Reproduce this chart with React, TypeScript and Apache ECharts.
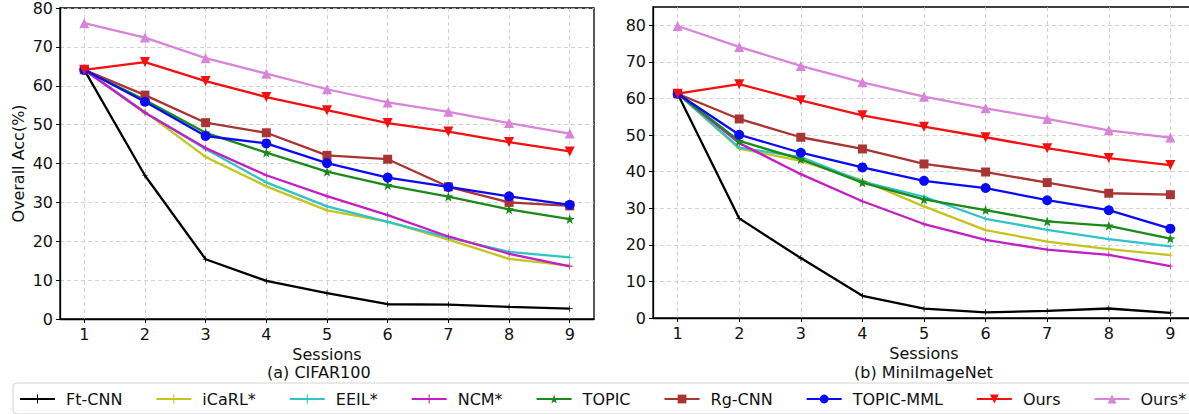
import React, { useEffect, useRef } from "react";
import * as echarts from "echarts";

const sessions = [1, 2, 3, 4, 5, 6, 7, 8, 9];
const methodNames = ["Ft-CNN", "iCaRL*", "EEIL*", "NCM*", "TOPIC", "Rg-CNN", "TOPIC-MML", "Ours", "Ours*"];

// (a) CIFAR100
const cifarFtCNN = [64.1, 36.91, 15.37, 9.8, 6.67, 3.8, 3.7, 3.14, 2.65];
const cifarICaRL = [64.1, 53.28, 41.69, 34.13, 27.93, 25.06, 20.41, 15.48, 13.73];
const cifarEEIL = [64.1, 53.11, 43.71, 35.15, 28.96, 24.98, 21.01, 17.26, 15.85];
const cifarNCM = [64.1, 53.05, 43.96, 36.97, 31.61, 26.73, 21.23, 16.78, 13.54];
const cifarTOPIC = [64.1, 56.3, 47.9, 42.8, 37.9, 34.4, 31.5, 28.2, 25.7];
const cifarRgCNN = [64.1, 57.6, 50.5, 47.9, 42.1, 41.1, 34.0, 30.0, 29.1];
const cifarTOPICMML = [64.1, 55.88, 47.07, 45.16, 40.11, 36.38, 33.96, 31.55, 29.37];
const cifarOurs = [64.1, 66.1, 61.2, 57.1, 53.7, 50.4, 48.2, 45.5, 43.1];
const cifarOursStar = [76.1, 72.4, 67.1, 63.1, 59.1, 55.7, 53.3, 50.4, 47.7];

// (b) MiniImageNet
const miniFtCNN = [61.31, 27.22, 16.37, 6.08, 2.54, 1.56, 1.93, 2.6, 1.4];
const miniICaRL = [61.31, 46.32, 42.94, 37.63, 30.49, 24.0, 20.89, 18.8, 17.21];
const miniEEIL = [61.31, 46.58, 44.0, 37.29, 33.14, 27.12, 24.1, 21.57, 19.58];
const miniNCM = [61.31, 47.8, 39.31, 31.91, 25.68, 21.35, 18.67, 17.24, 14.17];
const miniTOPIC = [61.3, 48.4, 43.4, 37.0, 32.4, 29.5, 26.4, 25.2, 21.7];
const miniRgCNN = [61.3, 54.4, 49.4, 46.2, 42.1, 39.9, 37.0, 34.1, 33.7];
const miniTOPICMML = [61.31, 50.09, 45.17, 41.16, 37.48, 35.52, 32.19, 29.46, 24.42];
const miniOurs = [61.3, 63.9, 59.5, 55.4, 52.3, 49.4, 46.4, 43.7, 41.8];
const miniOursStar = [79.8, 74.1, 68.9, 64.4, 60.5, 57.3, 54.4, 51.3, 49.3];

const yTicks = [0, 10, 20, 30, 40, 50, 60, 70, 80];

const cifarSets = [cifarFtCNN, cifarICaRL, cifarEEIL, cifarNCM, cifarTOPIC, cifarRgCNN, cifarTOPICMML, cifarOurs, cifarOursStar];
const miniSets = [miniFtCNN, miniICaRL, miniEEIL, miniNCM, miniTOPIC, miniRgCNN, miniTOPICMML, miniOurs, miniOursStar];

const PLUS = "path://M-0.6,-5 H0.6 V-0.6 H5 V0.6 H0.6 V5 H-0.6 V0.6 H-5 V-0.6 H-0.6 Z";
const STAR = "path://M0,-10 L2.35,-3.24 L9.51,-3.09 L3.8,1.24 L5.88,8.09 L0,4 L-5.88,8.09 L-3.8,1.24 L-9.51,-3.09 L-2.35,-3.24 Z";

const styles = [
  { color: "#000000", symbol: PLUS, size: 6, rotate: 0 },
  { color: "#c4c41c", symbol: PLUS, size: 6, rotate: 0 },
  { color: "#2ec4c8", symbol: PLUS, size: 6, rotate: 0 },
  { color: "#c31fc3", symbol: PLUS, size: 6, rotate: 0 },
  { color: "#1a8a1a", symbol: STAR, size: 10, rotate: 0 },
  { color: "#a83434", symbol: "rect", size: 9, rotate: 0 },
  { color: "#0a0af5", symbol: "circle", size: 10, rotate: 0 },
  { color: "#f50f0f", symbol: "triangle", size: 10, rotate: 180 },
  { color: "#d884d8", symbol: "triangle", size: 10, rotate: 0 },
];

const FONT = "DejaVu Sans";

function makeXAxis(gridIndex: number) {
  return {
    type: "value",
    gridIndex,
    min: 0.6,
    max: 9.4,
    name: "Sessions",
    nameLocation: "middle",
    nameGap: 22,
    nameTextStyle: { fontFamily: FONT, fontSize: 16, color: "#111" },
    axisLine: { show: true, lineStyle: { color: "#000", width: 1.3 } },
    axisTick: { show: true, length: 4, customValues: sessions, lineStyle: { color: "#000", width: 1 } },
    axisLabel: { customValues: sessions, margin: 7, fontFamily: FONT, fontSize: 16, color: "#111" },
    splitLine: { show: true, lineStyle: { color: "#c8c8c8", type: [4, 3], width: 0.8 } },
  };
}

function makeYAxis(gridIndex: number, max: number, withName: boolean) {
  return {
    type: "value",
    gridIndex,
    min: 0,
    max,
    name: withName ? "Overall Acc(%)" : "",
    nameLocation: "middle",
    nameGap: 34,
    nameTextStyle: { fontFamily: FONT, fontSize: 16, color: "#111" },
    axisLine: { show: true, lineStyle: { color: "#000", width: 1.3 } },
    axisTick: { show: true, length: 4, customValues: yTicks, lineStyle: { color: "#000", width: 1 } },
    axisLabel: { customValues: yTicks, margin: 7, fontFamily: FONT, fontSize: 16, color: "#111" },
    splitLine: { show: true, lineStyle: { color: "#c8c8c8", type: [4, 3], width: 0.8 } },
  };
}

function makeSeries(sets: number[][], axisIndex: number) {
  return sets.map((vals, i) => {
    const st = styles[i];
    return {
      type: "line",
      name: methodNames[i],
      xAxisIndex: axisIndex,
      yAxisIndex: axisIndex,
      data: sessions.map((s, k) => [s, vals[k]]),
      symbol: st.symbol,
      symbolSize: st.size,
      symbolRotate: st.rotate,
      showSymbol: true,
      lineStyle: { color: st.color, width: 2.3 },
      itemStyle: { color: st.color, borderWidth: 0 },
      z: 2 + i,
    };
  });
}

export default function App() {
  const ref = useRef<HTMLDivElement>(null);
  useEffect(() => {
    if (!ref.current) return;
    const chart = echarts.init(ref.current, null, { renderer: "svg" });
    chart.setOption({
      animation: false,
      backgroundColor: "#ffffff",
      grid: [
        { left: 60, top: 7, width: 534, height: 312, show: true, borderColor: "#000", borderWidth: 1.3 },
        { left: 653, top: 7, width: 542, height: 311, show: true, borderColor: "#000", borderWidth: 1.3 },
      ],
      xAxis: [makeXAxis(0), makeXAxis(1)],
      yAxis: [makeYAxis(0, 80, true), makeYAxis(1, 85, false)],
      legend: {
        data: methodNames,
        left: 13,
        top: 383,
        padding: [8, 7, 7, 6],
        itemWidth: 35,
        itemHeight: 11,
        itemGap: 33,
        backgroundColor: "#fff",
        borderColor: "#d4d4d4",
        borderWidth: 1,
        borderRadius: 4,
        textStyle: { fontFamily: FONT, fontSize: 16, color: "#111", padding: [0, 0, 0, 6] },
      },
      graphic: [
        {
          type: "text",
          left: 327 - 60,
          top: 364,
          style: { text: "(a) CIFAR100", fontFamily: FONT, fontSize: 16, fill: "#111" },
        },
        {
          type: "text",
          left: 924 - 70,
          top: 364,
          style: { text: "(b) MiniImageNet", fontFamily: FONT, fontSize: 16, fill: "#111" },
        },
      ],
      series: [...makeSeries(cifarSets, 0), ...makeSeries(miniSets, 1)],
    });
    return () => chart.dispose();
  }, []);
  return (
    <div style={{ position: "absolute", left: 0, top: 0, width: 1189, height: 414, overflow: "hidden", background: "#fff" }}>
      <div ref={ref} style={{ width: 1200, height: 414 }} />
    </div>
  );
}
